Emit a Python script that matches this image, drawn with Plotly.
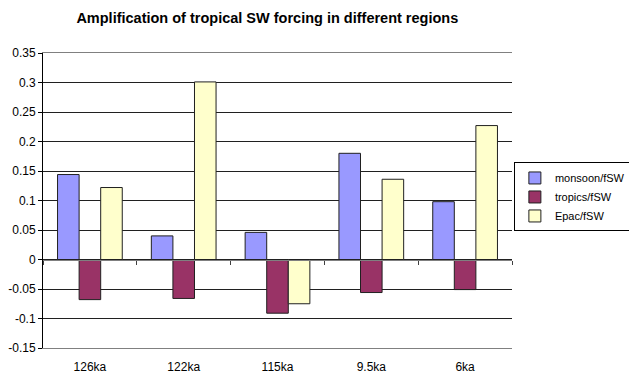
import plotly.graph_objects as go

# Periods and amplification ratios per region
periods = ["126ka", "122ka", "115ka", "9.5ka", "6ka"]
monsoon = [0.144, 0.040, 0.046, 0.180, 0.098]
tropics = [-0.068, -0.066, -0.091, -0.056, -0.051]
epac = [0.122, 0.301, -0.075, 0.136, 0.227]

y_ticks = [-0.15, -0.1, -0.05, 0, 0.05, 0.1, 0.15, 0.2, 0.25, 0.3, 0.35]
y_labels = ["-0.15", "-0.1", "-0.05", "0", "0.05", "0.1", "0.15", "0.2", "0.25", "0.3", "0.35"]

font_family = "Liberation Sans, Arial, sans-serif"
edge = dict(color="#202020", width=1)

fig = go.Figure()
fig.add_trace(go.Bar(x=periods, y=monsoon, name="monsoon/fSW",
                     marker=dict(color="#9999FF", line=edge)))
fig.add_trace(go.Bar(x=periods, y=tropics, name="tropics/fSW",
                     marker=dict(color="#993366", line=edge)))
fig.add_trace(go.Bar(x=periods, y=epac, name="Epac/fSW",
                     marker=dict(color="#FFFFCC", line=edge)))

# Invisible trace that carries the category axis drawn along y = 0
fig.add_trace(go.Scatter(x=periods, y=[None] * len(periods), xaxis="x2",
                         showlegend=False, hoverinfo="skip", mode="markers"))

fig.update_layout(
    width=629, height=376,
    margin=dict(l=43, r=117, t=53, b=28, autoexpand=False),
    paper_bgcolor="white", plot_bgcolor="white",
    font=dict(family=font_family, size=12, color="black"),
    title=dict(text="<b>Amplification of tropical SW forcing in different regions</b>",
               x=0.425, xanchor="center", y=0.952, yanchor="middle",
               font=dict(size=14.5, family=font_family)),
    barmode="group", bargap=0.31, bargroupgap=0,
    showlegend=True,
    legend=dict(x=1.004, xanchor="left", y=0.512, yanchor="middle",
                bordercolor="black", borderwidth=1, bgcolor="white",
                font=dict(size=11, family=font_family),
                itemwidth=30, tracegroupgap=0),
    xaxis=dict(type="category", categoryorder="array", categoryarray=periods,
               range=[-0.5, 4.5], showgrid=False, zeroline=False,
               showline=True, linecolor="#808080", linewidth=1, mirror=True,
               ticks="", tickfont=dict(size=12), ticklabelstandoff=8),
    xaxis2=dict(type="category", categoryorder="array", categoryarray=periods,
                range=[-0.5, 4.5], overlaying="x", anchor="free", position=0.3,
                showticklabels=False, showgrid=False, zeroline=False,
                showline=True, linecolor="#808080", linewidth=1,
                ticks="outside", tickson="boundaries", ticklen=4,
                tickcolor="#404040", side="bottom"),
    yaxis=dict(range=[-0.15, 0.35], tickvals=y_ticks, ticktext=y_labels,
               showgrid=True, gridcolor="#202020", gridwidth=1,
               zeroline=False, showline=True, linecolor="black", linewidth=1,
               ticks="outside", ticklen=4, tickcolor="black",
               tickfont=dict(size=12)),
)

fig.write_html("out.html")
